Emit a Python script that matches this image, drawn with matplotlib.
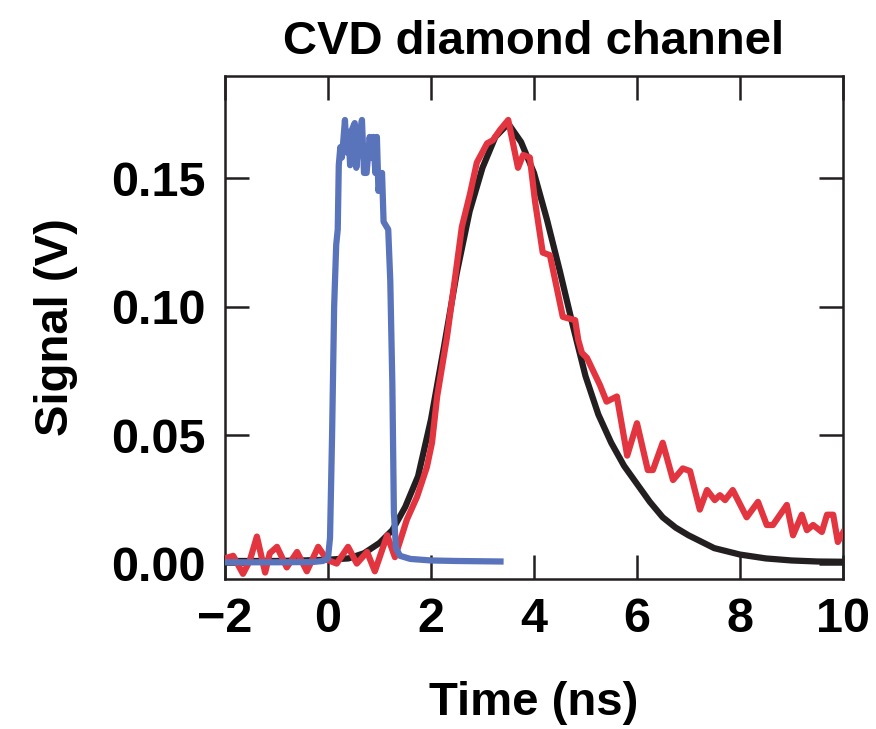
import matplotlib
matplotlib.use('Agg')
import matplotlib.pyplot as plt

# Fitted response (black)
fit_t = [-2.0, -1.0, -0.5, 0.0, 0.4, 0.7, 1.0, 1.25, 1.5, 1.75, 2.0, 2.25, 2.5,
         2.75, 3.0, 3.25, 3.5, 3.75, 4.0, 4.25, 4.5, 4.75, 5.0, 5.25, 5.5, 5.75,
         6.0, 6.25, 6.5, 6.75, 7.0, 7.5, 8.0, 8.5, 9.0, 9.5, 10.0]
fit_v = [0.001, 0.001, 0.0012, 0.0015, 0.002, 0.004, 0.008, 0.013, 0.022, 0.034,
         0.056, 0.084, 0.113, 0.137, 0.154, 0.166, 0.1712, 0.164, 0.152, 0.134,
         0.114, 0.093, 0.073, 0.058, 0.047, 0.038, 0.031, 0.024, 0.018, 0.014,
         0.011, 0.006, 0.0035, 0.002, 0.0012, 0.0008, 0.0007]

# Measured diamond signal (red)
sig_t = [-2.0, -1.84, -1.65, -1.52, -1.38, -1.22, -1.13, -0.99, -0.80, -0.60,
         -0.41, -0.19, -0.02, 0.17, 0.39, 0.56, 0.76, 0.91, 1.15, 1.30, 1.42,
         1.53, 1.73, 1.92, 2.02, 2.12, 2.31, 2.47, 2.60, 2.76, 2.89, 3.09, 3.20,
         3.34, 3.50, 3.69, 3.79, 3.92, 4.02, 4.17, 4.31, 4.56, 4.80, 4.86, 4.93,
         5.03, 5.28, 5.41, 5.61, 5.81, 6.00, 6.21, 6.31, 6.50, 6.70, 6.89, 7.03,
         7.22, 7.36, 7.51, 7.61, 7.71, 7.86, 8.13, 8.35, 8.52, 8.64, 8.91, 9.03,
         9.20, 9.30, 9.42, 9.59, 9.69, 9.81, 9.90, 10.0]
sig_v = [0.002, 0.003, -0.004, 0.001, 0.0105, -0.0035, 0.004, 0.0065, -0.0015,
         0.0045, -0.003, 0.0065, 0.0015, 0.0, 0.0065, 0.0, 0.0045, -0.003, 0.011,
         0.0025, 0.010, 0.017, 0.026, 0.0375, 0.047, 0.065, 0.088, 0.1115, 0.131,
         0.144, 0.156, 0.1635, 0.1647, 0.1687, 0.1726, 0.154, 0.159, 0.158, 0.141,
         0.121, 0.120, 0.096, 0.0947, 0.087, 0.082, 0.080, 0.0695, 0.063, 0.065,
         0.042, 0.0546, 0.0364, 0.0364, 0.047, 0.0325, 0.037, 0.036, 0.021,
         0.0286, 0.0247, 0.0266, 0.0247, 0.0286, 0.018, 0.024, 0.015, 0.015,
         0.0228, 0.011, 0.019, 0.013, 0.015, 0.0123, 0.019, 0.019, 0.0084, 0.012]

# Laser / reference pulse (blue)
pulse_t = [-2.0, -1.0, -0.3, -0.1, 0.0, 0.04, 0.08, 0.12, 0.16, 0.19, 0.21, 0.24,
           0.27, 0.30, 0.33, 0.36, 0.40, 0.43, 0.47, 0.52, 0.55, 0.60, 0.66,
           0.70, 0.75, 0.81, 0.85, 0.88, 0.92, 0.95, 0.98, 1.02, 1.05, 1.08,
           1.17, 1.21, 1.25, 1.28, 1.32, 1.40, 1.6, 2.0, 2.5, 3.35]
pulse_v = [0.0005, 0.0005, 0.0006, 0.001, 0.002, 0.01, 0.05, 0.10, 0.124, 0.13,
           0.155, 0.162, 0.158, 0.165, 0.1726, 0.160, 0.168, 0.155, 0.169,
           0.1714, 0.154, 0.165, 0.1726, 0.152, 0.152, 0.166, 0.158, 0.166,
           0.152, 0.166, 0.145, 0.150, 0.152, 0.133, 0.130, 0.110, 0.07, 0.02,
           0.006, 0.003, 0.0018, 0.0012, 0.001, 0.0008]

plt.rcParams['font.family'] = ['Liberation Sans', 'DejaVu Sans']
plt.rcParams['font.weight'] = 'bold'

fig = plt.figure(figsize=(8.76, 7.29), dpi=100)
ax = fig.add_axes([0.2568, 0.2058, 0.7055, 0.6899])

lw = 4.5
ax.plot(fit_t, fit_v, color='#231f20', lw=lw, solid_joinstyle='round', zorder=2)
ax.plot(sig_t, sig_v, color='#e3353f', lw=lw, solid_joinstyle='round', zorder=3)
ax.plot(pulse_t, pulse_v, color='#5a74bb', lw=lw, solid_joinstyle='round', zorder=4)

ax.set_xlim(-2, 10)
ax.set_ylim(-0.006, 0.1897)
ax.set_xticks([-2, 0, 2, 4, 6, 8, 10])
ax.set_yticks([0.0, 0.05, 0.10, 0.15])
ax.set_yticklabels(['0.00', '0.05', '0.10', '0.15'])

for s in ax.spines.values():
    s.set_linewidth(1.8)
    s.set_color('#231f20')
ax.tick_params(direction='in', length=17, width=1.8, color='#231f20',
               top=True, right=True, labelsize=35)
ax.tick_params(axis='x', pad=13)
ax.tick_params(axis='y', pad=14)

ax.set_xlabel('Time (ns)', fontsize=34, fontweight='bold', labelpad=28)
ax.set_ylabel('Signal (V)', fontsize=34, fontweight='bold', labelpad=24)
ax.set_title('CVD diamond channel', fontsize=34, fontweight='bold', pad=16)

fig.savefig('out.png', dpi=100)
